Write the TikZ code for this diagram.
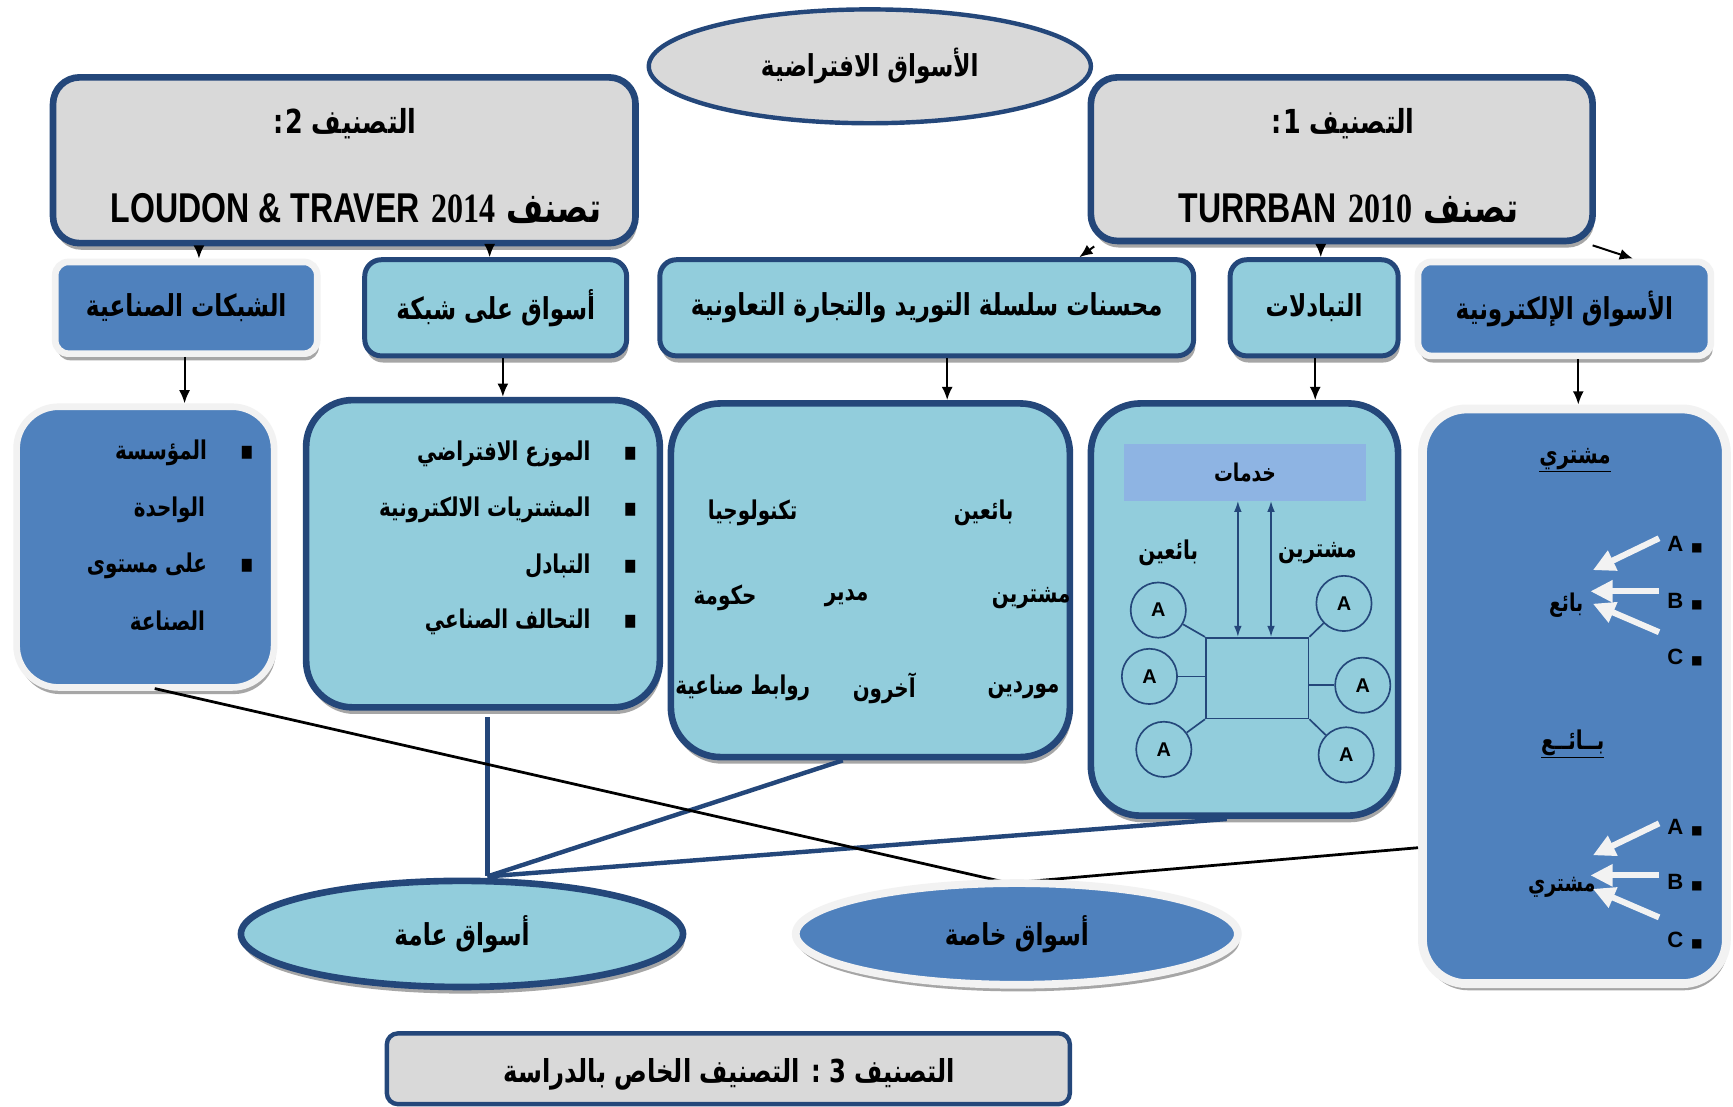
\documentclass[tikz,border=0pt]{standalone}
\usepackage{fontspec}
\usepackage{graphicx}
\setmainfont{Liberation Serif}
\newfontfamily\arabicfont[Script=Arabic]{DejaVu Sans}
\newfontfamily\sansfont{Liberation Sans}
\newfontfamily\symfont{DejaVu Sans}
\TeXXeTstate=1
\usetikzlibrary{shapes.geometric,arrows.meta,shadows,calc}

\definecolor{frame}{HTML}{24477A}
\definecolor{panel}{HTML}{D9D9D9}
\definecolor{sky}{HTML}{92CDDC}
\definecolor{steel}{HTML}{4F81BD}
\definecolor{service}{HTML}{8EB4E3}
\definecolor{halo}{HTML}{F2F2F2}

% right-to-left bold Arabic run, set a little taller than the font's own proportions
\newcommand\rtl[1]{\scalebox{1}[1.3]{\arabicfont\bfseries\beginR #1\endR}}
\newcommand\fsA{\fontsize{21}{25}\selectfont}
\newcommand\fsL{\fontsize{29}{33}\selectfont}
\newcommand\fsB{\fontsize{18}{22}\selectfont}
\newcommand\fsC{\fontsize{17}{20}\selectfont}
\newcommand\sq{{\symfont\fontsize{11}{13}\selectfont ■}}

\tikzset{
  shadowed/.style={drop shadow={shadow xshift=1.5pt, shadow yshift=-6pt, fill=black!35, opacity=1}},
  panelbox/.style={rectangle, rounded corners=24pt, fill=panel, draw=frame, line width=6pt, shadowed},
  skybox/.style={rectangle, fill=sky, draw=frame, line width=4.5pt, shadowed},
  steelbox/.style={rectangle, fill=steel, draw=halo, line width=6pt, shadowed},
  arr/.style={draw=black, line width=1.8pt, -{Latex[length=12pt,width=10pt]}},
  dblarr/.style={draw=frame, line width=1.5pt, {Latex[length=10pt,width=7pt]}-{Latex[length=10pt,width=7pt]}},
  thin/.style={draw=frame, line width=1.5pt},
  bluelink/.style={draw=frame, line width=4pt},
  blacklink/.style={draw=black, line width=2.5pt},
  wharrow/.style={draw=halo, line width=5.5pt, -{Triangle[length=20pt,width=19pt]}, shorten >=-2pt},
  hub/.style={circle, draw=frame, line width=1.5pt, minimum size=50pt, inner sep=0pt, font=\sansfont\bfseries\fontsize{18}{20}\selectfont},
  abc/.style={anchor=east, font=\sansfont\bfseries\fontsize{20}{24}\selectfont},
}

\begin{document}
\begin{tikzpicture}[x=1pt,y=-1pt]
\useasboundingbox (0,0) rectangle (1568,1001);
\fill[white] (0,0) rectangle (1568,1001);

% title
\node[ellipse, fill=panel, draw=frame, line width=4pt, minimum width=400pt, minimum height=103pt] (vm) at (787,60) {\fsA\rtl{الأسواق الافتراضية}};

% classification 2
\node[panelbox, minimum width=527pt, minimum height=150pt] (box2) at (311.5,145) {};
\node (t2a) at (312,112) {\fontsize{23}{27}\selectfont\rtl{التصنيف 2\kern2pt:}};
\node (t2b) at (322,189) {\fsL\rtl{تصنف \beginL{\sansfont\bfseries LOUDON \& TRAVER} {\rmfamily\bfseries 2014}\endL}};

% classification 1
\node[panelbox, minimum width=454pt, minimum height=148pt] (box1) at (1214,144) {};
\node (t1a) at (1215,112) {\fontsize{23}{27}\selectfont\rtl{التصنيف 1\kern2pt:}};
\node (t1b) at (1220,189) {\fsL\rtl{تصنف \beginL{\sansfont\bfseries TURRBAN} {\rmfamily\bfseries 2010}\endL}};

% second row
\node[steelbox, rounded corners=12pt, minimum width=237pt, minimum height=83pt] (n21) at (168.5,278.5) {\fsA\rtl{الشبكات الصناعية}};
\node[skybox, rounded corners=15pt, minimum width=237pt, minimum height=87pt] (n22) at (448.5,278.5) {\fsA\rtl{أسواق على شبكة}};
\node[skybox, rounded corners=15pt, minimum width=483pt, minimum height=87pt] (n23) at (838.5,278.5) {\fsA\rtl{محسنات سلسلة التوريد والتجارة التعاونية}};
\node[skybox, rounded corners=15pt, minimum width=152pt, minimum height=87pt] (n24) at (1189,278.5) {\fsA\rtl{التبادلات}};
\node[steelbox, rounded corners=12pt, minimum width=265pt, minimum height=85pt] (n25) at (1415.5,279.5) {\fsA\rtl{الأسواق الإلكترونية}};

\draw[arr] (box2.south -| 180,0) -- (n21.north -| 180,0);
\draw[arr] (box2.south -| 443,0) -- (n22.north -| 443,0);
\draw[arr] ($(box1.south west)+(6,2)$) -- ($(n23.north)+(138,0)$);
\draw[arr] (box1.south -| 1195,0) -- (n24.north -| 1195,0);
\draw[arr] ($(box1.south east)+(-3,1)$) -- ($(n25.north)+(62,0)$);

% third row
\node[steelbox, rounded corners=38pt, minimum width=233pt, minimum height=254pt] (n31) at (131.5,495) {};
\node[skybox, line width=6pt, rounded corners=42pt, minimum width=320pt, minimum height=278pt] (n32) at (437,501) {};
\node[skybox, line width=6pt, rounded corners=45pt, minimum width=361pt, minimum height=320pt] (n33) at (787.5,525) {};
\node[skybox, line width=6pt, rounded corners=45pt, minimum width=278pt, minimum height=373pt] (n34) at (1126,551.5) {};
\node[steelbox, line width=8pt, rounded corners=40pt, minimum width=275pt, minimum height=520pt] (n35) at (1424.5,630) {};

\draw[arr] (n21.south -| 167,0) -- (n31.north -| 167,0);
\draw[arr] (n22.south -| 455,0) -- (n32.north -| 455,0);
\draw[arr] (n23.south -| 857,0) -- (n33.north -| 857,0);
\draw[arr] (n24.south -| 1190,0) -- (n34.north -| 1190,0);
\draw[arr] (n25.south -| 1428,0) -- (n35.north -| 1428,0);

% industrial networks list
\node[anchor=east] (a1) at (233,410) {\fsB\rtl{▪\hspace{30pt}المؤسسة}};
\node[anchor=east] (a2) at (189,461) {\fsB\rtl{الواحدة}};
\node[anchor=east] (a3) at (233,512) {\fsB\rtl{▪\hspace{30pt}على مستوى}};
\node[anchor=east] (a4) at (189,562) {\fsB\rtl{الصناعة}};

% online markets list
\node[anchor=east] (b1) at (580,411) {\fsB\rtl{▪\hspace{30pt}الموزع الافتراضي}};
\node[anchor=east] (b2) at (580,461) {\fsB\rtl{▪\hspace{30pt}المشتريات الالكترونية}};
\node[anchor=east] (b3) at (580,512) {\fsB\rtl{▪\hspace{30pt}التبادل}};
\node[anchor=east] (b4) at (580,563) {\fsB\rtl{▪\hspace{30pt}التحالف الصناعي}};

% supply chain actors
\node (c1) at (890,464) {\fsB\rtl{بائعين}};
\node (c2) at (681,464) {\fsB\rtl{تكنولوجيا}};
\node (c3) at (933,541) {\fsB\rtl{مشترين}};
\node (c4) at (766,541) {\fsB\rtl{مدير}};
\node (c5) at (656,541) {\fsB\rtl{حكومة}};
\node (c6) at (926,625) {\fsB\rtl{موردين}};
\node (c7) at (800,623) {\fsB\rtl{آخرون}};
\node (c8) at (672,622) {\fsB\rtl{روابط صناعية}};

% exchange scheme
\node[rectangle, fill=service, minimum width=219pt, minimum height=51pt] (svc) at (1126.5,427.5) {\fsC\rtl{خدمات}};
\node (sl) at (1057,500) {\fontsize{18}{22}\selectfont\rtl{بائعين}};
\node (bl) at (1192,500) {\fontsize{18}{22}\selectfont\rtl{مشترين}};
\node[rectangle, thin, minimum width=93pt, minimum height=73pt] (sq) at (1137.5,613.5) {};
\draw[dblarr] (svc.south -| 1120,0) -- (sq.north -| 1120,0);
\draw[dblarr] (svc.south -| 1150,0) -- (sq.north -| 1150,0);
\node[hub] (h1) at (1048,552) {A};
\node[hub] (h2) at (1040,612) {A};
\node[hub] (h3) at (1053,678) {A};
\node[hub] (h4) at (1216,546) {A};
\node[hub] (h5) at (1233,620) {A};
\node[hub] (h6) at (1218,683) {A};
\draw[thin] (h1) -- (sq.north west);
\draw[thin] (h2) -- (sq.west |- h2);
\draw[thin] (h3) -- (sq.south west);
\draw[thin] (h4) -- (sq.north east);
\draw[thin] (h5) -- (sq.east |- h5);
\draw[thin] (h6) -- (sq.south east);

% electronic markets scheme
\node (buyer) at (1425,416) {\fontsize{18}{22}\selectfont\underline{\rtl{مشتري}}};
\node[abc] (la1) at (1544,493) {A\hspace{7pt}\sq};
\node[abc] (lb1) at (1544,544) {B\hspace{7pt}\sq};
\node[abc] (lc1) at (1544,595) {C\hspace{7pt}\sq};
\node (seller1) at (1417,548) {\fsC\rtl{بائع}};
\coordinate (tA1) at (1443,515);
\coordinate (tB1) at (1441,535);
\coordinate (tC1) at (1443,547);
\draw[wharrow] ($(la1.west)+(-4,-6)$) -- (tA1);
\draw[wharrow] ($(lb1.west)+(-4,-9)$) -- (tB1);
\draw[wharrow] ($(lc1.west)+(-4,-23)$) -- (tC1);

\node (seller) at (1423,673) {\fontsize{18}{22}\selectfont\underline{\rtl{بــائــع}}};
\node[abc] (la2) at (1544,749) {A\hspace{7pt}\sq};
\node[abc] (lb2) at (1544,799) {B\hspace{7pt}\sq};
\node[abc] (lc2) at (1544,851) {C\hspace{7pt}\sq};
\node (buyer2) at (1413,803) {\fsC\rtl{مشتري}};
\coordinate (tA2) at (1443,773);
\coordinate (tB2) at (1441,792);
\coordinate (tC2) at (1443,805);
\draw[wharrow] ($(la2.west)+(-4,-4)$) -- (tA2);
\draw[wharrow] ($(lb2.west)+(-4,-7)$) -- (tB2);
\draw[wharrow] ($(lc2.west)+(-4,-21)$) -- (tC2);

% links towards the two market types
\coordinate (meet) at (441,793);
\coordinate (dip) at (913,799);
\draw[bluelink] ($(n32.south)+(4,6)$) -- (meet);
\draw[bluelink] ($(n33.south)+(-25,0)$) -- (meet);
\draw[bluelink] ($(n34.south)+(-16,0)$) -- (meet);
\draw[blacklink] ($(n31.south)+(8.5,-2)$) -- (dip) -- (n35.west |- 0,767);

% market types
\node[ellipse, fill=sky, draw=frame, line width=6pt, minimum width=400pt, minimum height=96pt, shadowed] (pub) at (418,845) {\fsA\rtl{أسواق عامة}};
\node[ellipse, fill=steel, draw=halo, line width=7pt, minimum width=400pt, minimum height=92pt, shadowed] (priv) at (920,845) {\fsA\rtl{أسواق خاصة}};

% classification 3
\node[rectangle, rounded corners=10pt, fill=panel, draw=frame, line width=4pt, minimum width=618pt, minimum height=64pt] (study) at (659,967) {};
\node (studytxt) at (660,972) {\fontsize{22}{26}\selectfont\rtl{التصنيف 3 : التصنيف الخاص بالدراسة}};
\end{tikzpicture}
\end{document}
